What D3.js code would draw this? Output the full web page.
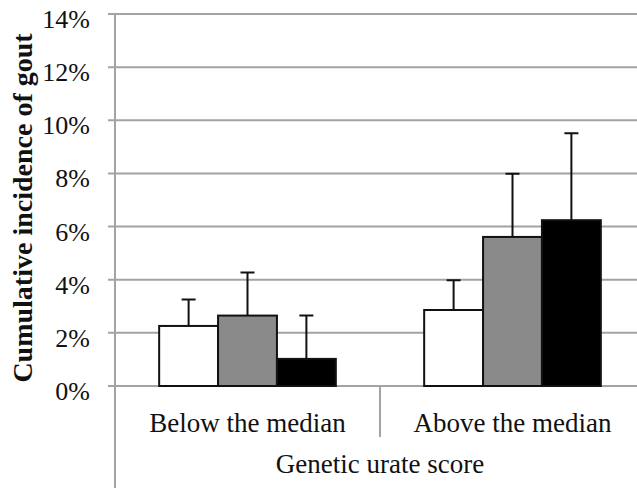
<!DOCTYPE html>
<html>
<head>
<meta charset="utf-8">
<script src="https://cdn.jsdelivr.net/npm/d3@7"></script>
<style>
  body { margin: 0; background: #fff; }
  text { font-family: "Liberation Serif", "Times New Roman", serif; fill: #111; }
</style>
</head>
<body>
<script>
// data
const groups = ["Below the median", "Above the median"];
const series = ["white", "gray", "black"];
const seriesFill = ["#ffffff", "#8a8a8a", "#000000"];
const belowValues = [2.26, 2.65, 1.02];
const belowUpper = [3.26, 4.27, 2.65];
const aboveValues = [2.86, 5.61, 6.24];
const aboveUpper = [3.98, 7.99, 9.51];
const yTicks = [0, 2, 4, 6, 8, 10, 12, 14];

const rows = [
  {group: groups[0], values: belowValues, upper: belowUpper},
  {group: groups[1], values: aboveValues, upper: aboveUpper}
];

const width = 637, height = 491;
const margin = {top: 14, left: 115, right: -8, bottom: 105};

const svg = d3.select("body").append("svg")
  .attr("width", width)
  .attr("height", height);

const x0 = d3.scaleBand()
  .domain(groups)
  .range([margin.left, width - margin.right]);

const x1 = d3.scaleBand()
  .domain(series)
  .range([0, x0.bandwidth()])
  .paddingOuter(0.75);

const y = d3.scaleLinear()
  .domain([0, 14])
  .range([height - margin.bottom, margin.top]);

const grid = "#a3a3a3";

// gridlines + tick marks
svg.append("g")
  .selectAll("line")
  .data(yTicks)
  .join("line")
  .attr("x1", margin.left - 7)
  .attr("x2", width)
  .attr("y1", d => y(d))
  .attr("y2", d => y(d))
  .attr("stroke", grid)
  .attr("stroke-width", 2);

// y tick labels
svg.append("g")
  .selectAll("text")
  .data(yTicks)
  .join("text")
  .attr("x", 90)
  .attr("y", d => y(d) + 14)
  .attr("text-anchor", "end")
  .style("font-size", "26px")
  .text(d => d + "%");

// axis line running down past the categories
svg.append("line")
  .attr("x1", margin.left).attr("x2", margin.left)
  .attr("y1", y(14)).attr("y2", 488)
  .attr("stroke", grid).attr("stroke-width", 2);

// category separator
svg.append("line")
  .attr("x1", x0(groups[1])).attr("x2", x0(groups[1]))
  .attr("y1", y(0)).attr("y2", 437)
  .attr("stroke", grid).attr("stroke-width", 2);

const g = svg.append("g")
  .selectAll("g")
  .data(rows)
  .join("g")
  .attr("transform", d => `translate(${x0(d.group)},0)`);

// error bars (upper only), drawn behind bars
g.selectAll("path.err")
  .data(d => series.map((s, i) => ({s, v: d.values[i], u: d.upper[i]})))
  .join("path")
  .attr("class", "err")
  .attr("d", d => {
    const cx = x1(d.s) + x1.bandwidth() / 2;
    return `M${cx},${y(d.v)}V${y(d.u)}M${cx - 7},${y(d.u)}H${cx + 7}`;
  })
  .attr("stroke", "#111")
  .attr("stroke-width", 2)
  .attr("fill", "none");

g.selectAll("rect")
  .data(d => series.map((s, i) => ({s, v: d.values[i], fill: seriesFill[i]})))
  .join("rect")
  .attr("x", d => x1(d.s))
  .attr("y", d => y(d.v))
  .attr("width", x1.bandwidth())
  .attr("height", d => y(0) - y(d.v))
  .attr("fill", d => d.fill)
  .attr("stroke", "#111")
  .attr("stroke-width", 2);

// category labels
svg.append("g")
  .selectAll("text")
  .data(groups)
  .join("text")
  .attr("x", d => x0(d) + x0.bandwidth() / 2)
  .attr("y", 432)
  .attr("text-anchor", "middle")
  .style("font-size", "27px")
  .text(d => d);

svg.append("text")
  .attr("x", x0(groups[1]))
  .attr("y", 473)
  .attr("text-anchor", "middle")
  .style("font-size", "27px")
  .text("Genetic urate score");

svg.append("text")
  .attr("transform", "translate(32,208) rotate(-90)")
  .attr("text-anchor", "middle")
  .style("font-size", "28px")
  .style("font-weight", "bold")
  .text("Cumulative incidence of gout");
</script>
</body>
</html>
